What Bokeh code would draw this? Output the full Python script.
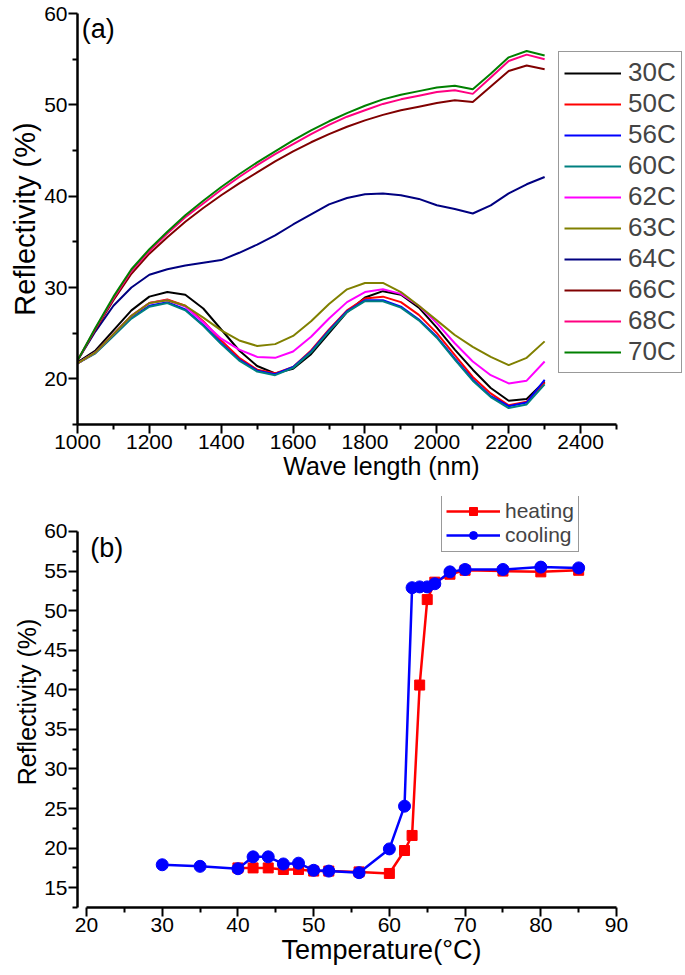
from bokeh.plotting import figure
from bokeh.models import Range1d, Legend, LegendItem, Label, FixedTicker
from bokeh.layouts import column
from bokeh.embed import file_html
from bokeh.resources import INLINE

FONT = "Liberation Sans"

# ---------------- panel (a): reflectivity spectra ----------------
wavelength = [1000, 1050, 1100, 1150, 1200, 1250, 1300, 1350, 1400, 1450, 1500, 1550, 1600, 1650,
              1700, 1750, 1800, 1850, 1900, 1950, 2000, 2050, 2100, 2150, 2200, 2250, 2300]

r_30C = [21.8, 23.1, 25.3, 27.5, 29.0, 29.5, 29.2, 27.7, 25.4, 23.1, 21.4, 20.6, 21.1, 22.7,
         25.0, 27.3, 28.9, 29.6, 29.2, 27.8, 25.6, 23.2, 21.0, 19.0, 17.6, 17.8, 19.7]
r_50C = [21.7, 22.9, 24.9, 26.9, 28.3, 28.7, 28.0, 26.3, 24.2, 22.3, 21.0, 20.6, 21.3, 23.1,
         25.4, 27.5, 28.8, 29.0, 28.4, 27.0, 25.0, 22.6, 20.2, 18.4, 17.1, 17.5, 19.6]
r_56C = [21.7, 22.9, 24.8, 26.7, 28.0, 28.4, 27.6, 25.9, 23.9, 22.1, 20.9, 20.5, 21.3, 23.0,
         25.3, 27.4, 28.6, 28.6, 27.9, 26.5, 24.6, 22.2, 19.9, 18.1, 17.0, 17.4, 19.9]
r_60C = [21.7, 22.8, 24.7, 26.6, 27.9, 28.3, 27.5, 25.8, 23.8, 22.0, 20.8, 20.4, 21.2, 22.9,
         25.2, 27.3, 28.5, 28.5, 27.8, 26.4, 24.5, 22.1, 19.8, 18.0, 16.8, 17.2, 19.4]
r_62C = [21.7, 22.9, 24.9, 26.9, 28.3, 28.6, 27.9, 26.2, 24.4, 23.2, 22.4, 22.3, 23.0, 24.6,
         26.6, 28.4, 29.5, 29.8, 29.3, 28.0, 26.1, 23.9, 21.9, 20.4, 19.5, 19.8, 21.9]
r_63C = [21.7, 22.9, 24.9, 26.9, 28.3, 28.6, 28.0, 26.7, 25.3, 24.2, 23.6, 23.8, 24.7, 26.3,
         28.2, 29.8, 30.5, 30.5, 29.5, 28.0, 26.4, 24.8, 23.5, 22.4, 21.5, 22.3, 24.1]
r_64C = [22.0, 25.2, 28.0, 30.0, 31.4, 32.0, 32.4, 32.7, 33.0, 33.8, 34.7, 35.7, 36.9, 38.0,
         39.1, 39.8, 40.2, 40.3, 40.1, 39.7, 39.0, 38.6, 38.1, 39.0, 40.3, 41.3, 42.1]
r_66C = [22.0, 25.4, 28.6, 31.5, 33.7, 35.5, 37.2, 38.7, 40.1, 41.4, 42.6, 43.8, 44.9, 45.9,
         46.8, 47.6, 48.3, 48.9, 49.4, 49.8, 50.2, 50.5, 50.3, 52.0, 53.7, 54.3, 53.9]
r_68C = [22.0, 25.5, 28.8, 31.8, 34.0, 35.9, 37.7, 39.2, 40.7, 42.1, 43.4, 44.6, 45.7, 46.8,
         47.8, 48.7, 49.4, 50.1, 50.6, 51.0, 51.4, 51.6, 51.2, 53.0, 54.8, 55.5, 55.0]
r_70C = [22.0, 25.6, 29.0, 32.0, 34.2, 36.1, 37.9, 39.5, 41.0, 42.4, 43.7, 44.9, 46.1, 47.2,
         48.2, 49.1, 49.9, 50.6, 51.1, 51.5, 51.9, 52.1, 51.7, 53.4, 55.2, 55.9, 55.4]

spectra_labels = ["30C", "50C", "56C", "60C", "62C", "63C", "64C", "66C", "68C", "70C"]
spectra_values = [r_30C, r_50C, r_56C, r_60C, r_62C, r_63C, r_64C, r_66C, r_68C, r_70C]
spectra_colors = ["#000000", "#ff0000", "#0000ff", "#008080", "#ff00ff", "#808000",
                  "#000080", "#800000", "#ff0080", "#008000"]

a_xticks = [1000, 1200, 1400, 1600, 1800, 2000, 2200, 2400]
a_xminor = [1100, 1300, 1500, 1700, 1900, 2100, 2300, 2500]
a_yticks = [20, 30, 40, 50, 60]
a_yminor = [15, 25, 35, 45, 55]

# ---------------- panel (b): reflectivity vs temperature ----------------
heat_T = [40, 42, 44, 46, 48, 50, 52, 56, 60, 62, 63, 64, 65, 66, 68, 70, 75, 80, 85]
heat_R = [17.5, 17.5, 17.5, 17.3, 17.3, 17.1, 17.1, 17.0, 16.8, 19.7, 21.6, 40.6, 51.4, 53.6,
          54.6, 55.1, 55.0, 54.9, 55.1]
cool_T = [30, 35, 40, 42, 44, 46, 48, 50, 52, 56, 60, 62, 63, 64, 65, 66, 68, 70, 75, 80, 85]
cool_R = [17.9, 17.7, 17.4, 18.9, 18.9, 18.0, 18.1, 17.2, 17.1, 16.9, 19.9, 25.3, 52.9, 53.0,
          53.0, 53.4, 54.9, 55.2, 55.2, 55.5, 55.4]

b_xticks = [20, 30, 40, 50, 60, 70, 80, 90]
b_xminor = [25, 35, 45, 55, 65, 75, 85]
b_yticks = [15, 20, 25, 30, 35, 40, 45, 50, 55, 60]
b_yminor = [12.5, 17.5, 22.5, 27.5, 32.5, 37.5, 42.5, 47.5, 52.5, 57.5]


def style_axes(p, tick_size, xlabel_size, ylabel_size):
    for ax in (p.xaxis[0], p.yaxis[0]):
        ax.axis_line_width = 2.5
        ax.axis_line_color = "black"
        ax.major_tick_line_width = 2
        ax.minor_tick_line_width = 2
        ax.major_tick_in = 0
        ax.major_tick_out = 9
        ax.minor_tick_in = 0
        ax.minor_tick_out = 5
        ax.major_label_text_font = FONT
        ax.major_label_text_font_size = tick_size
        ax.major_label_text_color = "black"
        ax.axis_label_text_font = FONT
        ax.axis_label_text_font_style = "normal"
        ax.axis_label_text_color = "black"
        ax.major_label_standoff = 1
        ax.axis_label_standoff = 0
    p.xaxis[0].axis_label_text_font_size = xlabel_size
    p.yaxis[0].axis_label_text_font_size = ylabel_size
    p.xgrid.visible = False
    p.ygrid.visible = False
    p.outline_line_color = None


# ---- figure (a): frame spans x 77..685, y 13..424
pa = figure(width=685, height=495, output_backend="svg", toolbar_location=None,
            x_range=Range1d(1000, 2692), y_range=Range1d(15, 60),
            min_border_left=77, min_border_right=0, min_border_top=13, min_border_bottom=71,
            x_axis_label="Wave length (nm)", y_axis_label="Reflectivity (%)")
pa.xaxis.ticker = FixedTicker(ticks=a_xticks, minor_ticks=a_xminor)
pa.yaxis.ticker = FixedTicker(ticks=a_yticks, minor_ticks=a_yminor)
pa.xaxis.bounds = (1000, 2500)
pa.yaxis.bounds = (15, 60)
style_axes(pa, "21px", "25px", "29px")

items = []
for lab, vals, col in zip(spectra_labels, spectra_values, spectra_colors):
    r = pa.line(wavelength, vals, line_color=col, line_width=2)
    items.append(LegendItem(label=lab, renderers=[r]))

leg_a = Legend(items=items, location=(481, 51), margin=0, padding=5, spacing=0,
               glyph_width=57, glyph_height=26, label_height=26, label_standoff=7,
               label_text_font=FONT, label_text_font_size="26px",
               border_line_color="#333333", border_line_width=1.5,
               background_fill_alpha=1.0)
pa.add_layout(leg_a)
pa.add_layout(Label(x=1012, y=60, text="(a)", text_baseline="top", text_font=FONT,
                    text_font_size="27px", text_color="black"))

# ---- figure (b): frame spans x 77..685, y 496..907
pb = figure(width=685, height=480, output_backend="svg", toolbar_location=None,
            x_range=Range1d(18.81, 99.11), y_range=Range1d(12.5, 64.42),
            min_border_left=77, min_border_right=0, min_border_top=1, min_border_bottom=68,
            x_axis_label="Temperature(°C)", y_axis_label="Reflectivity (%)")
pb.xaxis.ticker = FixedTicker(ticks=b_xticks, minor_ticks=b_xminor)
pb.yaxis.ticker = FixedTicker(ticks=b_yticks, minor_ticks=b_yminor)
pb.xaxis.bounds = (20, 90)
pb.yaxis.bounds = (12.5, 60)
style_axes(pb, "21px", "27px", "25px")

hl = pb.line(heat_T, heat_R, line_color="#ff0000", line_width=2.5)
hs = pb.scatter(heat_T, heat_R, marker="square", size=10, fill_color="#ff0000",
                line_color="#ff0000")
cl = pb.line(cool_T, cool_R, line_color="#0000ff", line_width=2.5)
cs = pb.scatter(cool_T, cool_R, marker="circle", size=12, fill_color="#0000ff",
                line_color="#0000ff")

leg_b = Legend(items=[LegendItem(label="heating", renderers=[hl, hs]),
                      LegendItem(label="cooling", renderers=[cl, cs])],
               location=(364, 355), margin=0, padding=4, spacing=0,
               glyph_width=54, glyph_height=20, label_height=20, label_standoff=5,
               label_text_font=FONT, label_text_font_size="21px",
               border_line_color="#333333", border_line_width=1.5)
pb.add_layout(leg_b)
pb.add_layout(Label(x=20.5, y=59.8, text="(b)", text_baseline="top", text_font=FONT,
                    text_font_size="27px", text_color="black"))

layout = column(pa, pb, spacing=0)
open("out.html", "w").write(file_html(layout, INLINE))
